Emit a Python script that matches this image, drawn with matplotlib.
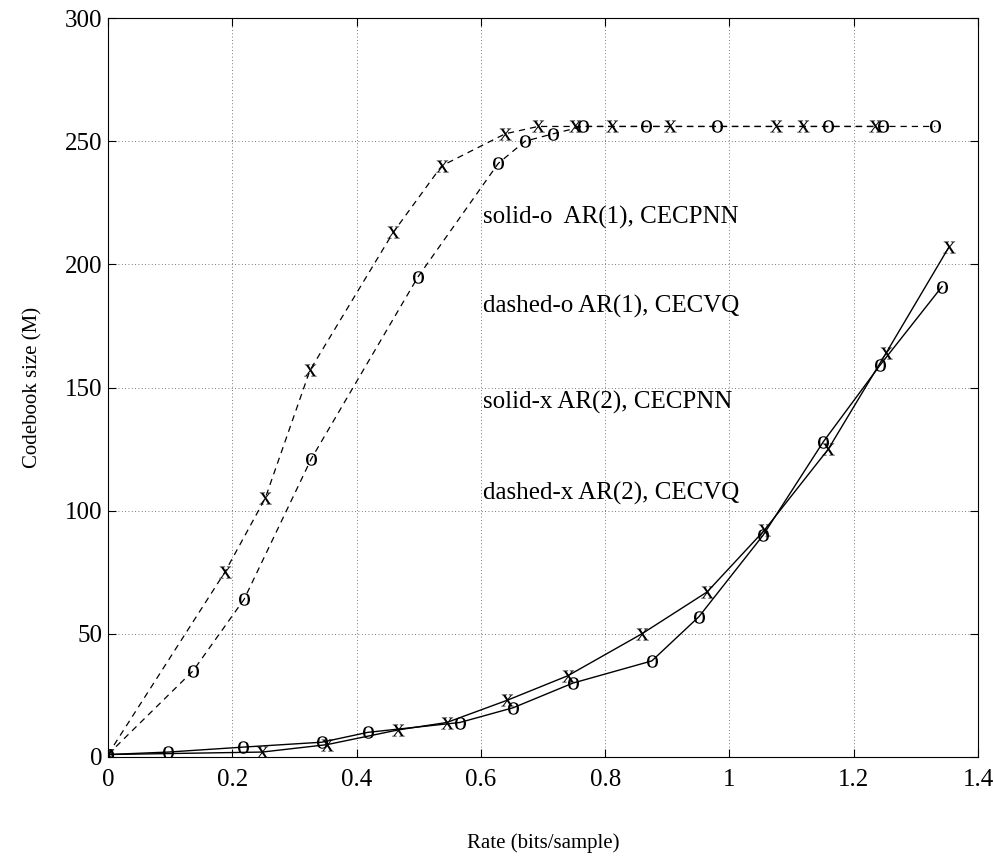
import numpy as np
import matplotlib
matplotlib.use('Agg')
import matplotlib.pyplot as plt

plt.rcParams['font.family'] = ['Liberation Serif', 'DejaVu Serif']
plt.rcParams['mathtext.fontset'] = 'custom'
plt.rcParams['mathtext.rm'] = 'Liberation Serif'

# dashed-x : AR(2), CECVQ
rate_dx = [0, 0.188, 0.253, 0.325, 0.459, 0.537, 0.639, 0.692, 0.752, 0.811, 0.904, 1.075, 1.118, 1.234]
size_dx = [1, 75, 105, 157, 213, 240, 253, 256, 256, 256, 256, 256, 256, 256]

# dashed-o : AR(1), CECVQ
rate_do = [0, 0.137, 0.219, 0.327, 0.499, 0.628, 0.671, 0.716, 0.764, 0.866, 0.980, 1.159, 1.247, 1.331]
size_do = [1, 35, 64, 121, 195, 241, 250, 253, 256, 256, 256, 256, 256, 256]

# solid-o : AR(1), CECPNN
rate_so = [0, 0.097, 0.217, 0.344, 0.418, 0.566, 0.652, 0.748, 0.875, 0.951, 1.054, 1.151, 1.242, 1.342]
size_so = [1, 2, 4, 6, 10, 14, 20, 30, 39, 57, 90, 128, 159, 191]

# solid-x : AR(2), CECPNN
rate_sx = [0, 0.248, 0.352, 0.467, 0.545, 0.642, 0.740, 0.859, 0.964, 1.056, 1.159, 1.252, 1.353]
size_sx = [1, 2, 5, 11, 14, 23, 33, 50, 67, 92, 125, 164, 207]

notes = ['solid-o  AR(1), CECPNN', 'dashed-o AR(1), CECVQ',
         'solid-x AR(2), CECPNN', 'dashed-x AR(2), CECVQ']
note_y = [219, 183, 144, 107]

fig = plt.figure(figsize=(9.95, 8.61), dpi=100)
ax = fig.add_axes([0.1085, 0.1208, 0.8745, 0.8582])

mx = r'$\mathrm{x}$'
mo = r'$\mathrm{o}$'
mk = dict(ms=9, mew=0, mfc='k')
ax.plot(rate_dx, size_dx, color='k', lw=0.9, dashes=(5, 4), marker=mx, **mk)
ax.plot(rate_do, size_do, color='k', lw=0.9, dashes=(5, 4), marker=mo, **mk)
ax.plot(rate_so, size_so, color='k', lw=1.0, marker=mo, **mk)
ax.plot(rate_sx, size_sx, color='k', lw=1.0, marker=mx, **mk)

for t, yv in zip(notes, note_y):
    ax.text(0.603, yv, t, fontsize=18, va='center', ha='left')

ax.set_xlim(0, 1.4)
ax.set_ylim(0, 300)
ax.set_xticks(np.arange(0, 1.41, 0.2))
ax.set_xticklabels(['0', '0.2', '0.4', '0.6', '0.8', '1', '1.2', '1.4'])
ax.set_yticks(np.arange(0, 301, 50))
ax.tick_params(direction='in', top=True, right=True, labelsize=18, length=6)
ax.tick_params(axis='x', pad=9)
ax.tick_params(axis='y', pad=4)
ax.grid(True, linestyle=(0, (1, 3)), color='k', lw=0.6, alpha=0.7)

ax.set_xlabel('Rate (bits/sample)', fontsize=15, labelpad=30)
ax.set_ylabel('Codebook size (M)', fontsize=15, labelpad=16)

fig.savefig('out.png', dpi=100)
